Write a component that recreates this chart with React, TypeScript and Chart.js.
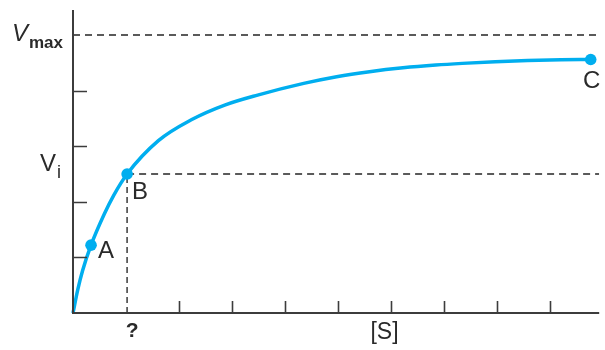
import React, { useEffect, useRef } from "react";
import { Chart, registerables } from "chart.js";

Chart.register(...registerables);

// Substrate concentration [S] and initial velocity Vi
const curveS = [0, 0.09, 0.18, 0.34, 0.59, 0.77, 1.02, 1.61, 2.24, 2.86, 3.48, 4.35, 4.97, 5.59, 6.22, 6.84, 7.34, 7.96, 8.57, 9.2, 9.76];
const curveV = [0, 0.42, 0.76, 1.22, 1.78, 2.12, 2.5, 3.1, 3.48, 3.74, 3.92, 4.13, 4.25, 4.34, 4.41, 4.46, 4.49, 4.52, 4.54, 4.555, 4.56];

// Labelled points
const pointNames = ["A", "B", "C"];
const pointS = [0.34, 1.02, 9.76];
const pointV = [1.22, 2.5, 4.56];

// Reference levels
const vMax = 5;
const vI = 2.5;
const sB = 1.02;

// Axis ranges and tick marks (no tick labels)
const xMax = 9.92;
const yMax = 5.45;
const xTickValues = [2, 3, 4, 5, 6, 7, 8, 9];
const yTickValues = [1, 2, 3, 4];

const CYAN = "#00aeef";
const DASH = "#5a5a5a";
const AXIS = "#3c3c3c";
const TEXT = "#2a2a2a";
const FONT = '"Liberation Sans", Arial, sans-serif';

const decor = {
  id: "decor",
  afterDraw(chart: any) {
    const { ctx, chartArea } = chart;
    const xs = chart.scales.x;
    const ys = chart.scales.y;
    const x0 = xs.getPixelForValue(0);
    const y0 = ys.getPixelForValue(0);
    ctx.save();
    // axes
    ctx.strokeStyle = AXIS;
    ctx.lineWidth = 2;
    ctx.beginPath();
    ctx.moveTo(x0, chartArea.top);
    ctx.lineTo(x0, y0);
    ctx.lineTo(chartArea.right, y0);
    ctx.stroke();
    // inward ticks
    ctx.lineWidth = 1.6;
    ctx.beginPath();
    yTickValues.forEach((v) => {
      const py = Math.round(ys.getPixelForValue(v)) + 0.5;
      ctx.moveTo(x0, py);
      ctx.lineTo(x0 + 14, py);
    });
    xTickValues.forEach((v) => {
      const px = Math.round(xs.getPixelForValue(v)) + 0.5;
      ctx.moveTo(px, y0);
      ctx.lineTo(px, y0 - 12);
    });
    ctx.stroke();

    // y labels
    ctx.fillStyle = TEXT;
    ctx.textBaseline = "alphabetic";
    ctx.textAlign = "left";
    const pMax = ys.getPixelForValue(vMax);
    ctx.font = "italic 24px " + FONT;
    ctx.fillText("V", 12, pMax + 6);
    ctx.font = "bold 17px " + FONT;
    ctx.fillText("max", 29, pMax + 13);
    const pI = ys.getPixelForValue(vI);
    ctx.font = "24px " + FONT;
    ctx.fillText("V", 40, pI - 3);
    ctx.font = "18px " + FONT;
    ctx.fillText("i", 57, pI + 4);

    // x labels
    ctx.textAlign = "center";
    ctx.textBaseline = "middle";
    ctx.font = "bold 21px " + FONT;
    ctx.fillText("?", xs.getPixelForValue(sB) + 5, y0 + 18);
    ctx.font = "23px " + FONT;
    ctx.fillText("[S]", 384.5, y0 + 20);

    // point labels
    const meta = chart.getDatasetMeta(0);
    const offsets = [
      [15, 6],
      [13, 18],
      [1, 22],
    ];
    ctx.font = "24px " + FONT;
    meta.data.forEach((el: any, i: number) => {
      ctx.fillText(pointNames[i], el.x + offsets[i][0], el.y + offsets[i][1]);
    });
    ctx.restore();
  },
};

export default function App() {
  const ref = useRef<HTMLCanvasElement | null>(null);
  useEffect(() => {
    if (!ref.current) return;
    const curve = curveS.map((s, i) => ({ x: s, y: curveV[i] }));
    const pts = pointS.map((s, i) => ({ x: s, y: pointV[i] }));
    const dashStyle = {
      showLine: true,
      borderColor: DASH,
      borderWidth: 1.8,
      borderDash: [7, 5],
      pointRadius: 0,
      fill: false,
    };
    const chart = new Chart(ref.current, {
      type: "scatter",
      data: {
        datasets: [
          {
            label: "points",
            data: pts,
            showLine: false,
            pointRadius: 5.8,
            pointBackgroundColor: CYAN,
            pointBorderWidth: 0,
            borderColor: CYAN,
            clip: false,
            order: 0,
          } as any,
          {
            label: "curve",
            data: curve,
            showLine: true,
            borderColor: CYAN,
            borderWidth: 3.5,
            pointRadius: 0,
            cubicInterpolationMode: "monotone",
            clip: false,
            order: 1,
          },
          { label: "vmax", data: [{ x: 0, y: vMax }, { x: xMax, y: vMax }], ...dashStyle, order: 2 },
          { label: "vi", data: [{ x: sB, y: vI }, { x: xMax, y: vI }], ...dashStyle, order: 2 },
          { label: "sB", data: [{ x: sB, y: 0 }, { x: sB, y: vI }], ...dashStyle, borderDash: [6, 4], order: 2 },
        ],
      },
      options: {
        animation: false,
        responsive: false,
        maintainAspectRatio: false,
        events: [],
        layout: { padding: { left: 73, right: 0, top: 10, bottom: 37 } },
        scales: {
          x: { type: "linear", min: 0, max: xMax, display: false },
          y: { type: "linear", min: 0, max: yMax, display: false },
        },
        plugins: { legend: { display: false }, tooltip: { enabled: false } },
      },
      plugins: [decor],
    });
    return () => chart.destroy();
  }, []);
  return (
    <div style={{ position: "absolute", left: 0, top: 0, width: 605, height: 350, background: "#fff" }}>
      <canvas ref={ref} width={605} height={350} style={{ width: 605, height: 350 }} />
    </div>
  );
}
